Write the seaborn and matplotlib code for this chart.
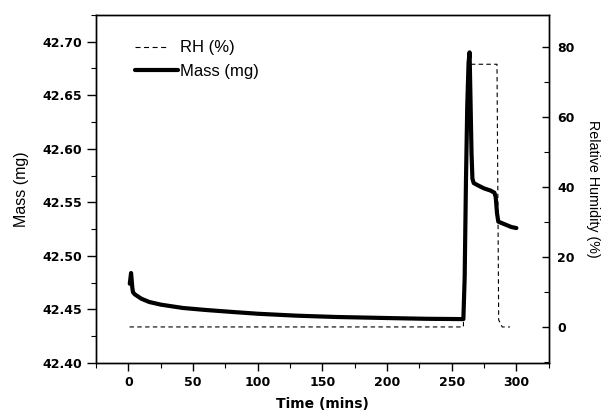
import numpy as np
import pandas as pd
import seaborn as sns
import matplotlib.pyplot as plt
from matplotlib.ticker import MultipleLocator
from matplotlib.lines import Line2D

# Mass trace (mg) vs time (mins)
time_mass = [1, 2, 3, 3.5, 5, 10, 16, 25, 42, 60, 80, 100, 130, 160, 200, 230,
             259, 260, 261, 262, 263, 263.8, 264.6, 265.3, 266, 267, 270, 275,
             280, 283, 284, 285, 286, 288, 292, 296, 300]
mass = [42.474, 42.484, 42.470, 42.466, 42.464, 42.460, 42.457, 42.4545,
        42.4514, 42.4495, 42.4477, 42.446, 42.4442, 42.443, 42.442, 42.4413,
        42.441, 42.48, 42.57, 42.64, 42.68, 42.69, 42.64, 42.596, 42.572,
        42.568, 42.566, 42.563, 42.561, 42.559, 42.555, 42.54, 42.532, 42.531,
        42.529, 42.527, 42.526]

# Relative humidity step (%)
time_rh = [0.8, 259, 263, 285, 286.3, 289, 295]
rh = [0, 0, 75, 75, 2, 0, 0]

df_mass = pd.DataFrame({'time': time_mass, 'mass': mass})
df_rh = pd.DataFrame({'time': time_rh, 'rh': rh})

sns.set_style('ticks')
plt.rcParams['font.family'] = ['Liberation Sans', 'DejaVu Sans']
plt.rcParams['text.color'] = 'black'
plt.rcParams['axes.labelcolor'] = 'black'

fig = plt.figure(figsize=(6.01, 4.13), dpi=100)
ax = fig.add_axes([0.16, 0.121, 0.753, 0.843])
ax2 = ax.twinx()

sns.lineplot(data=df_mass, x='time', y='mass', ax=ax, color='black', linewidth=3.0)
sns.lineplot(data=df_rh, x='time', y='rh', ax=ax2, color='black', linewidth=0.8,
             linestyle=(0, (4, 3)))

ax.set_xlim(-25, 325)
ax.set_ylim(42.40, 42.725)
ax2.set_ylim(-10.3, 89.1)

ax.xaxis.set_major_locator(MultipleLocator(50))
ax.xaxis.set_minor_locator(MultipleLocator(25))
ax.yaxis.set_major_locator(MultipleLocator(0.05))
ax.yaxis.set_minor_locator(MultipleLocator(0.025))
ax2.yaxis.set_major_locator(MultipleLocator(20))
ax2.yaxis.set_minor_locator(MultipleLocator(10))
ax.yaxis.set_major_formatter(plt.FormatStrFormatter('%.2f'))

ax.tick_params(which='major', direction='out', length=6, width=1, pad=3,
               colors='black')
ax.tick_params(which='minor', direction='out', length=3.5, width=0.8, colors='black')
ax2.tick_params(which='major', direction='in', length=5, width=1, pad=6,
                colors='black')
ax2.tick_params(which='minor', direction='in', length=3.5, width=0.8, colors='black')
ax.tick_params(axis='y', which='major', length=6.5, pad=3.5)
for lab in ax.get_xticklabels() + ax.get_yticklabels() + ax2.get_yticklabels():
    lab.set_fontfamily('DejaVu Sans')
    lab.set_fontweight('bold')
    lab.set_fontsize(9)

for a in (ax, ax2):
    for sp in a.spines.values():
        sp.set_visible(True)
        sp.set_linewidth(1.0)
        sp.set_color('black')

ax.set_xlabel('Time (mins)', fontsize=10, fontweight='bold',
              fontfamily='DejaVu Sans', labelpad=6, color='black')
ax.set_ylabel('Mass (mg)', fontsize=11.5, labelpad=10, color='black')
ax2.set_ylabel('Relative Humidity (%)', fontsize=10.3, rotation=270, labelpad=18,
               color='black')

# legend handles: dashed RH ends with a gap before its label
handles = [Line2D([], [], color='black', linewidth=0.8,
                  linestyle=(0, (4.5, 3.2, 4.5, 3.2, 4.5, 3.2, 4.5, 20))),
           Line2D([], [], color='black', linewidth=3.0)]
leg = ax.legend(handles, ['RH (%)', 'Mass (mg)'], loc='upper left',
                bbox_to_anchor=(0.06, 0.96), frameon=False, fontsize=12,
                handlelength=2.6, handletextpad=0.1, labelspacing=0.5,
                borderaxespad=0.3)
for t in leg.get_texts():
    t.set_color('black')

fig.savefig('out.png', dpi=100)
